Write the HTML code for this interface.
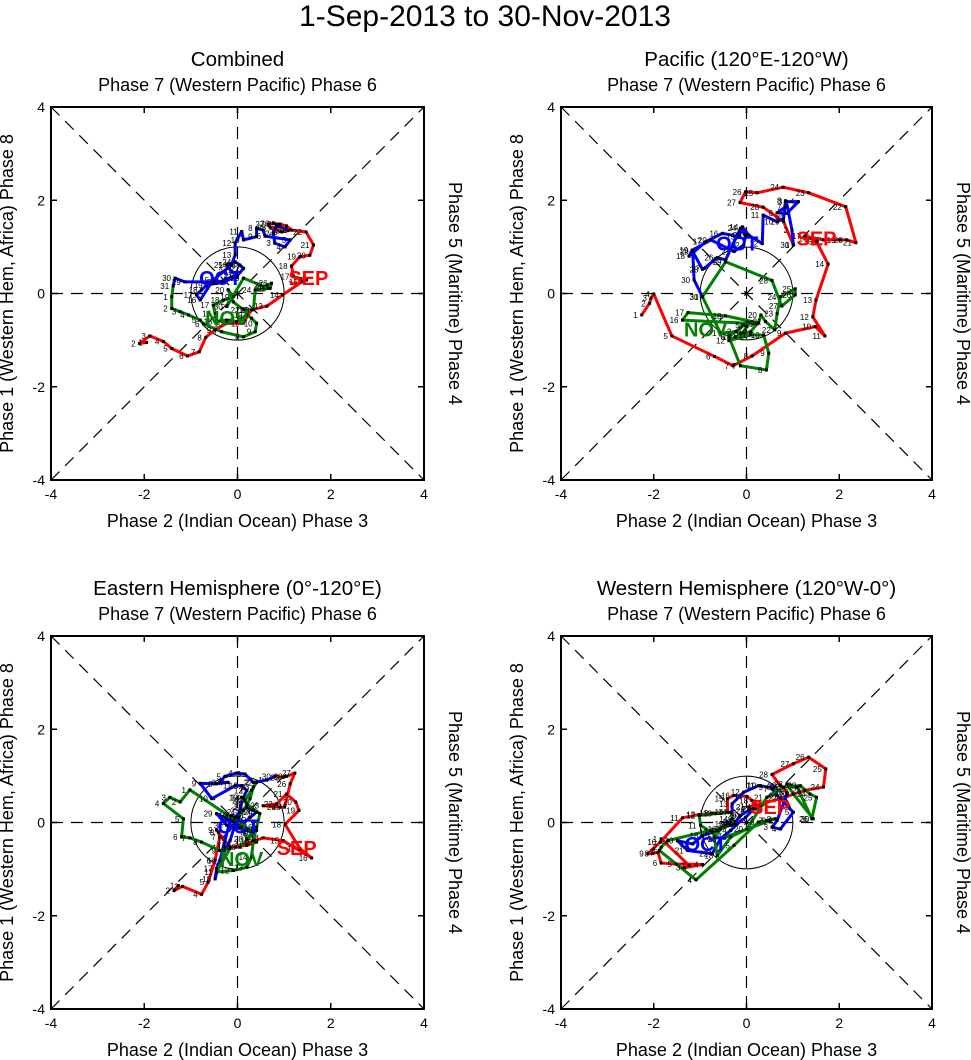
<!DOCTYPE html>
<html><head><meta charset="utf-8"><style>
body{margin:0;background:#fff;}
svg{display:block;font-family:"Liberation Sans",sans-serif;}
</style></head><body>
<svg id="c" width="971" height="1060" viewBox="0 0 971 1060">
<text x="485" y="26" text-anchor="middle" font-size="30">1-Sep-2013 to 30-Nov-2013</text>
</svg>
<script>
// ---- data (RMM1, RMM2) per panel & month ----
const panelTitles = ["Combined","Pacific (120°E-120°W)","Eastern Hemisphere (0°-120°E)","Western Hemisphere (120°W-0°)"];
const axisTicks = [-4,-2,0,2,4];
const tickLabels = ["-4","-2","0","2","4"];
const monthNames = ["SEP","OCT","NOV"];
const monthColors = ["#ff0000","#0000ff","#008000"];

const p1SepX=[-1.95,-2.10,-1.88,-1.59,-1.41,-1.07,-0.82,-0.68,-0.48,-0.23,0.12,0.30,0.63,0.97,1.38,1.48,1.20,1.16,1.34,1.55,1.63,1.47,1.16,1.05,0.91,0.77,0.66,0.70,0.95,1.09];
const p1SepY=[-1.05,-1.07,-0.91,-1.03,-1.18,-1.34,-1.25,-0.94,-0.78,-0.64,-0.64,-0.35,-0.27,-0.03,0.25,0.29,0.36,0.59,0.79,0.82,1.04,1.32,1.36,1.45,1.49,1.50,1.49,1.42,1.32,1.35];
const p1OctX=[0.84,0.77,0.80,1.02,1.13,0.59,0.55,0.41,0.41,0.13,0.09,-0.05,-0.05,-0.13,-0.52,-0.80,-0.88,-0.77,-0.66,-0.30,-0.02,0.13,0.05,-0.05,-0.23,-0.13,-0.02,-0.38,-1.13,-1.34,-1.38];
const p1OctY=[1.47,1.29,1.08,1.00,1.15,1.23,1.36,1.40,1.22,1.15,1.33,1.08,0.83,0.61,0.29,-0.14,-0.03,0.08,0.18,0.25,0.36,0.54,0.61,0.68,0.61,0.47,0.40,0.25,0.25,0.33,0.16];
const p1NovX=[-1.41,-1.41,-1.23,-1.05,-0.80,-0.73,-0.34,0.13,0.38,0.41,0.30,0.20,-0.02,-0.23,-0.45,-0.48,-0.52,-0.30,-0.09,-0.20,-0.09,0.13,0.34,0.38,0.70,0.73,0.63,0.66,0.13,-0.23];
const p1NovY=[-0.07,-0.32,-0.39,-0.46,-0.57,-0.65,-0.82,-0.93,-0.82,-0.64,-0.53,-0.46,-0.60,-0.57,-0.60,-0.43,-0.25,-0.14,-0.07,0.08,-0.18,-0.35,-0.35,0.08,0.11,0.22,0.18,0.11,0.33,-0.28];

const p2SepX=[-2.26,-2.09,-2.06,-2.00,-1.61,-0.69,-0.29,0.12,0.84,1.48,1.69,1.43,1.50,1.76,1.51,1.40,1.26,1.66,2.01,2.16,2.36,2.14,1.34,0.79,0.23,-0.02,-0.14,0.36,0.80,1.01];
const p2SepY=[-0.46,-0.21,-0.10,-0.01,-0.91,-1.35,-1.55,-1.34,-0.85,-0.71,-0.91,-0.50,-0.14,0.63,1.11,1.18,1.23,1.15,1.15,1.15,1.09,1.86,2.16,2.28,2.16,2.18,1.95,1.85,1.54,1.04];
const p2OctX=[1.01,0.98,0.86,1.12,0.87,0.66,0.84,0.84,0.80,0.66,0.36,0.34,0.05,-0.09,-0.16,-0.52,-0.88,-1.24,-1.17,-0.77,-0.27,-0.06,-0.02,-0.13,-0.45,-0.63,-0.91,-0.95,-1.16,-1.13,-0.95];
const p2OctY=[1.04,1.36,1.97,1.97,1.72,1.73,1.86,1.99,1.61,1.54,1.68,1.07,1.25,1.43,1.22,1.29,1.11,0.80,0.93,1.15,0.90,1.04,1.25,1.40,0.72,0.77,0.54,0.52,0.90,0.29,-0.07];
const p2NovX=[-0.56,-0.24,-0.09,0.01,-0.06,-0.38,-0.13,0.43,0.48,0.37,0.09,-0.38,-0.24,0.09,0.23,-1.38,-1.26,-0.45,0.26,0.31,0.41,0.61,0.66,0.73,1.05,1.05,0.76,0.55,-0.45,-0.95];
const p2NovY=[-0.85,-0.82,-0.85,-0.71,-0.68,-0.93,-1.55,-1.64,-1.28,-0.89,-0.89,-1.01,-0.93,-0.82,-0.65,-0.57,-0.41,-0.48,-0.63,-0.46,-0.60,-0.78,-0.43,-0.07,0.10,-0.03,-0.27,0.28,0.68,-0.07];

const p3SepX=[-1.27,-1.36,-1.18,-0.77,-0.63,-0.48,-0.38,-0.41,-0.45,-0.16,0.20,0.41,-0.05,0.55,0.98,1.59,1.34,1.02,1.32,1.25,1.05,0.84,0.55,0.91,1.01,1.13,1.23,1.05,0.98,0.80];
const p3SepY=[-1.35,-1.46,-1.37,-1.54,-1.28,-0.81,-0.31,-0.21,-0.16,-0.53,-0.49,-0.42,-0.53,-0.33,-0.39,-0.76,-0.56,-0.04,0.26,0.44,0.61,0.40,0.36,0.33,0.33,0.83,1.06,0.99,0.97,0.99];
const p3OctX=[0.63,0.34,0.16,-0.02,-0.27,-0.38,-0.20,-0.45,-0.80,-0.55,-0.05,0.09,0.20,0.13,-0.16,-0.38,-0.45,-0.48,-0.13,-0.05,0.05,0.20,0.34,0.41,0.27,0.16,0.05,-0.09,-0.45,-0.23,0.34];
const p3OctY=[0.91,0.86,1.04,1.06,0.99,0.86,0.86,0.83,0.84,0.51,0.79,0.79,0.69,0.54,-0.39,-0.81,-0.99,-1.21,0.15,0.11,0.22,0.33,0.26,0.22,0.11,0.01,-0.10,0.01,0.19,-0.06,-0.21];
const p3NovX=[-1.02,-1.23,-1.45,-1.59,-1.16,-1.20,-1.02,-0.77,-0.38,-0.16,-0.45,-0.09,0.20,0.30,0.34,0.41,0.48,0.20,0.09,0.16,0.30,0.41,0.34,0.27,0.13,0.02,0.09,0.20,0.41,0.05];
const p3NovY=[0.70,0.44,0.54,0.41,0.08,-0.31,-0.33,-0.42,-0.60,-0.56,-1.06,-1.03,-0.96,-0.74,-0.39,-0.10,0.19,0.40,0.54,0.47,0.69,0.86,0.76,0.51,0.26,0.11,-0.10,-0.35,-0.17,-0.53];

const p4SepX=[-1.84,-1.24,-1.34,-0.95,-1.52,-1.84,-1.91,-2.02,-2.13,-1.86,-1.38,-1.02,-0.74,-0.41,-0.41,-0.27,0.01,0.12,0.30,0.19,0.05,0.73,1.26,1.66,1.71,1.34,1.01,0.55,0.73,0.87];
const p4SepY=[-0.35,-0.92,-0.97,-0.90,-0.89,-0.87,-0.64,-0.66,-0.67,-0.42,0.10,0.17,0.20,0.22,0.51,0.58,0.56,0.47,0.33,0.29,0.33,0.51,0.69,0.76,1.15,1.40,1.26,1.03,0.79,0.65];
const p4OctX=[0.87,0.66,0.55,0.73,1.01,0.66,0.55,0.62,0.44,0.30,0.26,-0.06,-0.31,-0.31,-0.41,-0.63,-0.74,-0.95,-1.16,-1.49,-1.27,-0.74,-0.56,-0.34,-0.20,-0.02,0.16,0.05,-0.13,-0.24,-0.34];
const p4OctY=[0.61,0.04,-0.10,-0.14,0.22,0.58,0.72,0.76,0.76,0.79,0.79,0.65,0.40,0.08,-0.03,-0.17,-0.21,-0.28,-0.46,-0.39,-0.60,-0.67,-0.35,-0.17,-0.03,0.11,0.29,0.26,0.15,0.01,-0.06];
const p4NovX=[-1.70,-1.84,-1.88,-1.09,-0.27,0.26,0.44,0.62,0.51,-0.56,-0.99,-1.02,-0.66,-0.34,-0.27,-0.56,-0.70,-0.63,-0.34,0.01,0.44,0.80,1.16,1.37,1.51,1.41,1.09,0.87,1.01,1.44];
const p4NovY=[-0.39,-0.53,-0.60,-1.23,-0.49,0.01,0.04,0.08,0.04,-0.35,-0.06,0.15,0.19,0.22,-0.03,-0.14,-0.31,-0.71,-0.31,-0.14,0.54,0.76,0.79,0.61,0.54,0.08,0.76,0.83,0.61,0.08];

// month label positions (data units) per panel: [SEP, OCT, NOV]
const p1LabX=[1.52,-0.37,-0.23], p1LabY=[0.33,0.33,-0.53];
const p2LabX=[1.51,-0.20,-0.88], p2LabY=[1.18,1.07,-0.77];
const p3LabX=[1.27,0.02,0.09],  p3LabY=[-0.55,-0.09,-0.78];
const p4LabX=[0.51,-0.88,null], p4LabY=[0.33,-0.46,null];

const NS="http://www.w3.org/2000/svg";
const svg=document.getElementById('c');
function mk(tag,attrs,parent){const e=document.createElementNS(NS,tag);for(const k in attrs)e.setAttribute(k,attrs[k]);(parent||svg).appendChild(e);return e;}

const panels=[
 {l:51,r:424,t:107,b:480,sx:[p1SepX,p1OctX,p1NovX],sy:[p1SepY,p1OctY,p1NovY],lx:p1LabX,ly:p1LabY},
 {l:561,r:932,t:107,b:480,sx:[p2SepX,p2OctX,p2NovX],sy:[p2SepY,p2OctY,p2NovY],lx:p2LabX,ly:p2LabY},
 {l:51,r:424,t:636,b:1009,sx:[p3SepX,p3OctX,p3NovX],sy:[p3SepY,p3OctY,p3NovY],lx:p3LabX,ly:p3LabY},
 {l:561,r:932,t:636,b:1009,sx:[p4SepX,p4OctX,p4NovX],sy:[p4SepY,p4OctY,p4NovY],lx:p4LabX,ly:p4LabY}
];

panels.forEach((p,i)=>{
 const g=mk('g',{});
 
 
 const X=v=>p.l+(v+4)/8*(p.r-p.l);
 const Y=v=>p.b-(v+4)/8*(p.b-p.t);
 const cx=(p.l+p.r)/2, cy=(p.t+p.b)/2;
 const t=mk('text',{x:cx,y:p.t-41,'text-anchor':'middle','font-size':20.5},g);t.textContent=panelTitles[i];
 
 
 const tt=mk('text',{x:cx,y:p.t-16,'text-anchor':'middle','font-size':18},g);tt.textContent='Phase 7 (Western Pacific) Phase 6';
 
 
 const bt=mk('text',{x:cx,y:p.b+47,'text-anchor':'middle','font-size':18},g);bt.textContent='Phase 2 (Indian Ocean) Phase 3';
 
 
 const lt=mk('text',{x:0,y:0,'text-anchor':'middle','font-size':18,transform:`translate(${p.l-38},${cy}) rotate(-90)`},g);lt.textContent='Phase 1 (Western Hem, Africa) Phase 8';
 
 
 const rt=mk('text',{x:0,y:0,'text-anchor':'middle','font-size':18,transform:`translate(${p.r+25},${cy}) rotate(90)`},g);rt.textContent='Phase 5 (Maritime) Phase 4';
 
 
 const dash={stroke:'#000','stroke-width':1.2,'stroke-dasharray':'12,8',fill:'none'};
 mk('line',Object.assign({x1:p.l,y1:p.t,x2:p.r,y2:p.b},dash),g);
 mk('line',Object.assign({x1:p.l,y1:p.b,x2:p.r,y2:p.t},dash),g);
 mk('line',Object.assign({x1:X(0),y1:p.t,x2:X(0),y2:p.b},dash),g);
 mk('line',Object.assign({x1:p.l,y1:Y(0),x2:p.r,y2:Y(0)},dash),g);
 const circ=mk('circle',{cx:X(0),cy:Y(0),r:X(1)-X(0),fill:'none',stroke:'#000','stroke-width':1},g);
 
 
 axisTicks.forEach((v,k)=>{
  mk('line',{x1:X(v),y1:p.b,x2:X(v),y2:p.b-6,stroke:'#000','stroke-width':1.5},g);
  mk('line',{x1:X(v),y1:p.t,x2:X(v),y2:p.t+6,stroke:'#000','stroke-width':1.5},g);
  mk('line',{x1:p.l,y1:Y(v),x2:p.l+6,y2:Y(v),stroke:'#000','stroke-width':1.5},g);
  mk('line',{x1:p.r,y1:Y(v),x2:p.r-6,y2:Y(v),stroke:'#000','stroke-width':1.5},g);
  const xl=mk('text',{x:X(v),y:p.b+19,'text-anchor':'middle','font-size':14},g);xl.textContent=tickLabels[k];
  
  
  const yl=mk('text',{x:p.l-6,y:Y(v)+5,'text-anchor':'end','font-size':14},g);yl.textContent=tickLabels[k];
  
  
 });
 mk('rect',{x:p.l,y:p.t,width:p.r-p.l,height:p.b-p.t,fill:'none',stroke:'#000','stroke-width':2},g);
 let prev=null;
 for(let m=0;m<3;m++){
  const xs=p.sx[m], ys=p.sy[m];
  let d='';
  if(prev) d+='M'+X(prev[0])+','+Y(prev[1])+' L';else d+='M';
  d+=xs.map((v,k)=>X(v)+','+Y(ys[k])).join(' L');
  const path=mk('path',{d:d,fill:'none',stroke:monthColors[m],'stroke-width':3,'stroke-linejoin':'round'},g);
  
  
  prev=[xs[xs.length-1],ys[ys.length-1]];
 }
 for(let m=0;m<3;m++){
  const xs=p.sx[m], ys=p.sy[m];
  xs.forEach((v,k)=>{
   const dot=mk('rect',{x:X(v)-1.5,y:Y(ys[k])-1.5,width:3,height:3,fill:'#000'},g);
   
   
   const lb=mk('text',{x:X(v)-4,y:Y(ys[k])+3,'text-anchor':'end','font-size':8},g);lb.textContent=String(k+1);
   
   
  });
 }
 for(let m=0;m<3;m++){
  if(p.lx[m]===null) continue;
  const ml=mk('text',{x:X(p.lx[m]),y:Y(p.ly[m])+7,'text-anchor':'middle','font-size':20,'font-weight':'bold',fill:monthColors[m]},g);
  ml.textContent=monthNames[m];
  
  
 }
});
</script>
</body></html>
